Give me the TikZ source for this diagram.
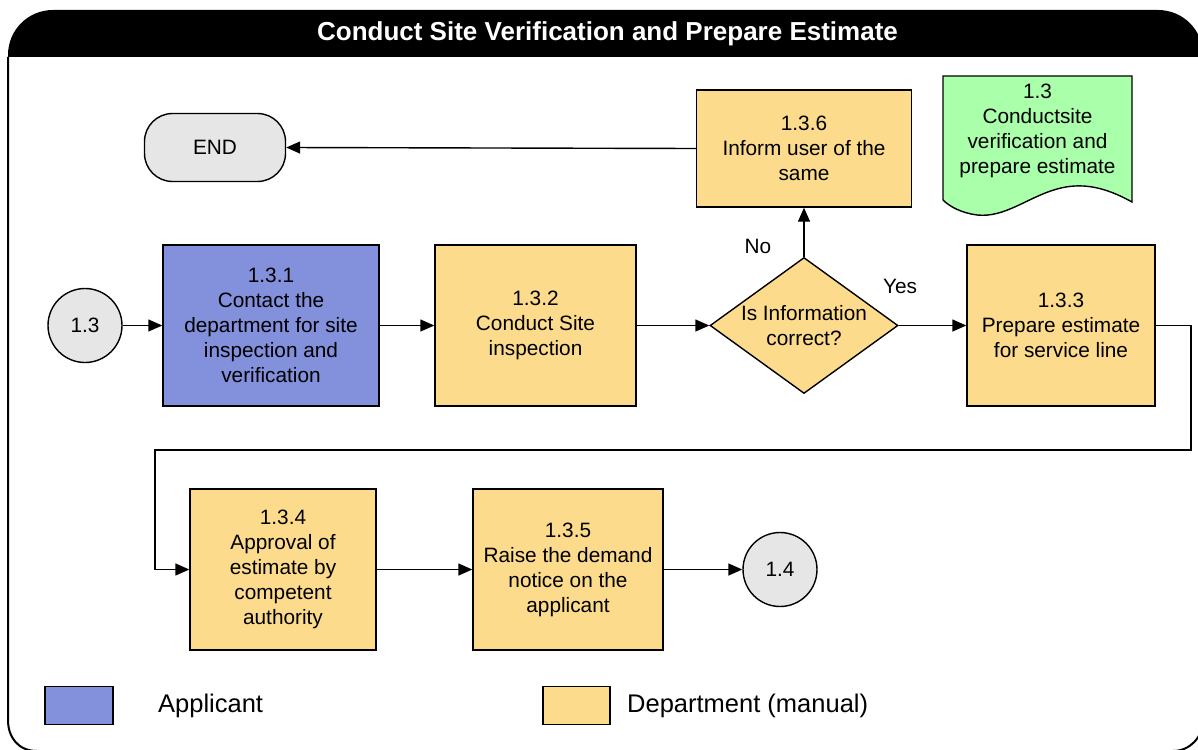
\documentclass[tikz,border=0pt]{standalone}
\usepackage{fontspec}
\setmainfont{Liberation Sans}
\usetikzlibrary{arrows.meta,shapes.geometric}
\definecolor{deptfill}{RGB}{252,220,140}
\definecolor{appfill}{RGB}{131,145,220}
\definecolor{termfill}{RGB}{230,230,230}
\definecolor{docfill}{RGB}{170,255,170}
\tikzset{
  txt/.style={font=\fontsize{20.8}{25}\selectfont, align=center},
  taskbox/.style={txt, rectangle, draw=black, line width=1.4pt, inner sep=0pt,
                  fill=deptfill, minimum height=161pt},
  appbox/.style={taskbox, fill=appfill},
  onpage/.style={txt, circle, draw=black, line width=1.4pt, fill=termfill,
                 inner sep=0pt, minimum size=74pt},
  terminal/.style={txt, rectangle, rounded corners=28pt, draw=black, line width=1.4pt,
                   fill=termfill, minimum width=141pt, minimum height=68pt},
  decision/.style={diamond, draw=black, line width=1.4pt, fill=deptfill, inner sep=0pt,
                   minimum width=188pt, minimum height=136pt},
  flow/.style={line width=1.4pt, -{Triangle[length=14pt,width=12pt]}},
  legendbox/.style={rectangle, draw=black, line width=1.4pt, inner sep=0pt,
                    minimum width=67pt, minimum height=38pt},
  legendtxt/.style={font=\fontsize{25.5}{30}\selectfont, anchor=west, inner sep=0pt},
}
\begin{document}
\begin{tikzpicture}[x=1pt,y=-1pt]
\clip[use as bounding box] (0,0) rectangle (1198,749);

% outer frame
\draw[line width=2pt] (8,57) -- (8,720) .. controls (8,737) and (18,751) .. (37,751)
  -- (1173,751) .. controls (1190,751) and (1203,737) .. (1203,720) -- (1203,57);
% title bar
\fill[black] (8,57) -- (8,55) .. controls (8,30) and (28,10) .. (53,10)
  -- (1158,10) .. controls (1183,10) and (1203,30) .. (1203,55) -- (1203,57) -- cycle;
\node[font=\fontsize{26}{30}\selectfont\bfseries, text=white, inner sep=0pt]
  (title) at (607.5,34) {Conduct Site Verification and Prepare Estimate};

% process document
\filldraw[fill=docfill, draw=black, line width=1.4pt]
  (943,76) -- (1132,76) -- (1132,202)
  .. controls (1105,187) and (1082,182) .. (1057,189)
  .. controls (1028,197) and (1005,218) .. (977,215)
  .. controls (962,213) and (950,207) .. (943,200) -- cycle;
\node[txt, inner sep=0pt] (doc) at (1037.5,131)
  {1.3\\Conductsite\\verification and\\prepare estimate};

% nodes
\node[onpage] (c13) at (85,325.5) {1.3};
\node[appbox, minimum width=216pt] (n131) at (271,325.5)
  {1.3.1\\Contact the\\department for site\\inspection and\\verification};
\node[taskbox, minimum width=201pt] (n132) at (535.5,325.5)
  {1.3.2\\Conduct Site\\inspection};
\node[decision] (dec) at (804,325.5) {};
\node[txt, inner sep=0pt] (dectxt) at (dec.center) {Is Information\\correct?};
\node[taskbox, minimum width=188pt] (n133) at (1061,325.5)
  {1.3.3\\Prepare estimate\\for service line};
\node[taskbox, minimum width=215pt, minimum height=117pt] (n136) at (804,148.5)
  {1.3.6\\Inform user of the\\same};
\node[terminal] (end) at (215,147.5) {END};
\node[taskbox, minimum width=186pt] (n134) at (283,569.5)
  {1.3.4\\Approval of\\estimate by\\competent\\authority};
\node[taskbox, minimum width=190pt] (n135) at (568,569.5)
  {1.3.5\\Raise the demand\\notice on the\\applicant};
\node[onpage] (c14) at (780,569.5) {1.4};

% branch labels
\node[txt, inner sep=0pt] (nolbl) at (758,246) {No};
\node[txt, inner sep=0pt] (yeslbl) at (900,286) {Yes};

% connectors
\coordinate (turnA) at (1191,450);
\coordinate (turnB) at (155,450);
\draw[flow] (c13.east) -- (n131.west);
\draw[flow] (n131.east) -- (n132.west);
\draw[flow] (n132.east) -- (dec.west);
\draw[flow] (dec.east) -- (n133.west);
\draw[flow] (dec.north) -- (n136.south);
\draw[flow] (n136.west) -- (end.east);
\draw[flow] (n133.east) -| (turnA) -- (turnB) |- (n134.west);
\draw[flow] (n134.east) -- (n135.west);
\draw[flow] (n135.east) -- (c14.west);

% legend
\node[legendbox, fill=appfill, minimum width=68pt] (legA) at (79,705.5) {};
\node[legendtxt] (legAtxt) at (158,706) {Applicant};
\node[legendbox, fill=deptfill] (legD) at (576.5,705.5) {};
\node[legendtxt] (legDtxt) at (627,706) {Department (manual)};
\end{tikzpicture}
\end{document}
